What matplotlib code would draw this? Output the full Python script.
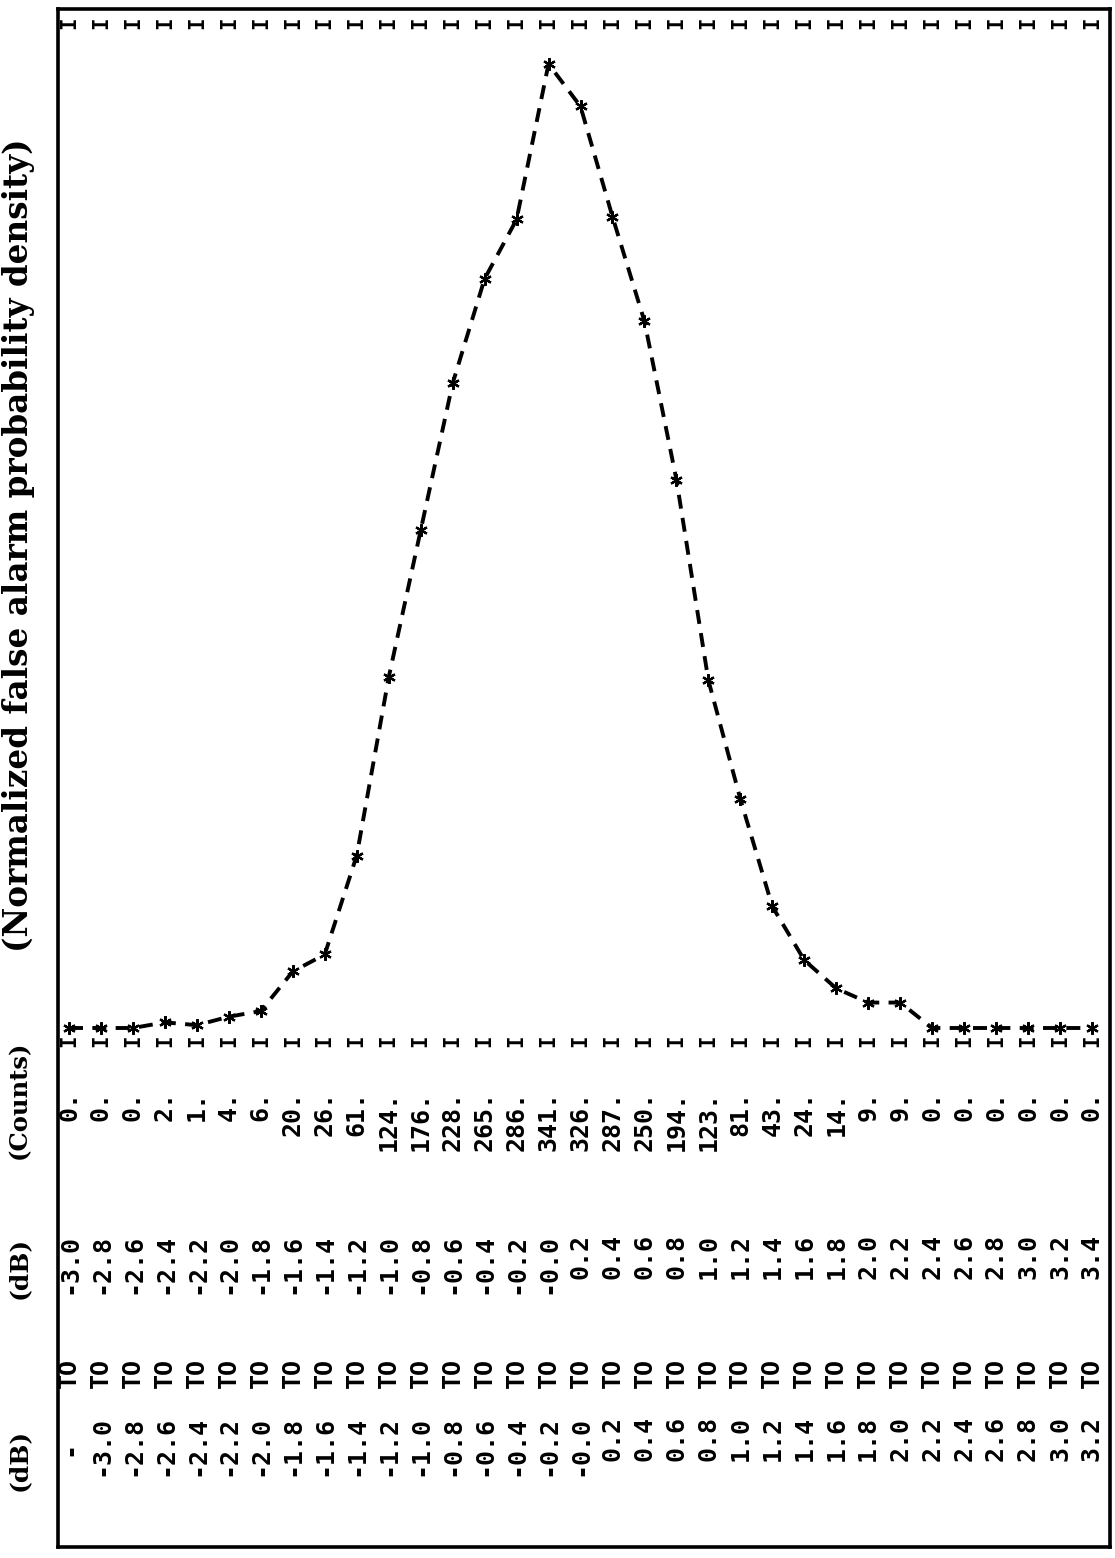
import numpy as np
import matplotlib
matplotlib.use("Agg")
import matplotlib.pyplot as plt

# counts per 0.2 dB bin (33 bins)
counts = [0, 0, 0, 2, 1, 4, 6, 20, 26, 61, 124, 176, 228, 265, 286, 341,
          326, 287, 250, 194, 123, 81, 43, 24, 14, 9, 9, 0, 0, 0, 0, 0, 0]

lower_db = ["-", "-3.0", "-2.8", "-2.6", "-2.4", "-2.2", "-2.0", "-1.8", "-1.6",
            "-1.4", "-1.2", "-1.0", "-0.8", "-0.6", "-0.4", "-0.2", "-0.0",
            "0.2", "0.4", "0.6", "0.8", "1.0", "1.2", "1.4", "1.6", "1.8",
            "2.0", "2.2", "2.4", "2.6", "2.8", "3.0", "3.2"]
upper_db = ["-3.0", "-2.8", "-2.6", "-2.4", "-2.2", "-2.0", "-1.8", "-1.6",
            "-1.4", "-1.2", "-1.0", "-0.8", "-0.6", "-0.4", "-0.2", "-0.0",
            "0.2", "0.4", "0.6", "0.8", "1.0", "1.2", "1.4", "1.6", "1.8",
            "2.0", "2.2", "2.4", "2.6", "2.8", "3.0", "3.2", "3.4"]

W, H = 1115, 1558
fig = plt.figure(figsize=(W / 100, H / 100), dpi=100)
fig.patch.set_facecolor("white")

# frame in pixels (left, right, top, bottom)
fl, fr, ft, fb = 58, 1110, 9, 1547
ax = fig.add_axes([fl / W, (H - fb) / H, (fr - fl) / W, (fb - ft) / H])
for s in ax.spines.values():
    s.set_linewidth(2.6)
ax.set_xticks([])
ax.set_yticks([])

# pixel row (from top) -> axes fraction
def fy(py):
    return (fb - py) / (fb - ft)

# columns: first at x=69 px, last at 1092 px
n = len(counts)
x = np.arange(n)
step = (1092 - 69) / (n - 1)
ax.set_xlim((fl - 69) / step, (fr - 69) / step)

# value axis: zero at y=1028 px, max at y=64 px
base, top = fy(1028), fy(64)
span = max(counts) / (top - base)
ax.set_ylim(-base * span, (1 - base) * span)

ax.plot(x, counts, color="black", lw=2.8, ls=(0, (3.6, 2.4)),
        marker=(6, 2, 0), ms=9, mew=1.6, mec="black")

tr = ax.get_xaxis_transform()
mono = "DejaVu Sans Mono"
kw = dict(transform=tr, rotation=90, ha="center", family=mono,
          fontweight="bold", fontsize=18)
for i in range(n):
    ax.text(i, fy(23), "I", va="center", **{**kw, "fontsize": 15})
    ax.text(i, fy(1041), "I", va="center", **{**kw, "fontsize": 15})
    ax.text(i, fy(1091), f"{counts[i]}.", va="top", **kw)
    ax.text(i, fy(1234), upper_db[i], va="top", **kw)
    ax.text(i, fy(1358), "TO", va="top", **kw)
    if lower_db[i] == "-":
        ax.text(i, fy(1448), "-", va="center", **kw)
    else:
        ax.text(i, fy(1416), lower_db[i], va="top", **kw)

serif = "DejaVu Serif"
lx = 19 / W
lab = dict(rotation=90, ha="center", va="center", family=serif, fontweight="bold")
fig.text(lx, 1 - 545 / H, "(Normalized false alarm probability density)",
         fontsize=23.5, **lab)
fig.text(lx, 1 - 1100 / H, "(Counts)", fontsize=17.5, **lab)
fig.text(lx, 1 - 1268 / H, "(dB)", fontsize=18, **lab)
fig.text(lx, 1 - 1460 / H, "(dB)", fontsize=18, **lab)

fig.savefig("out.png", dpi=100)
